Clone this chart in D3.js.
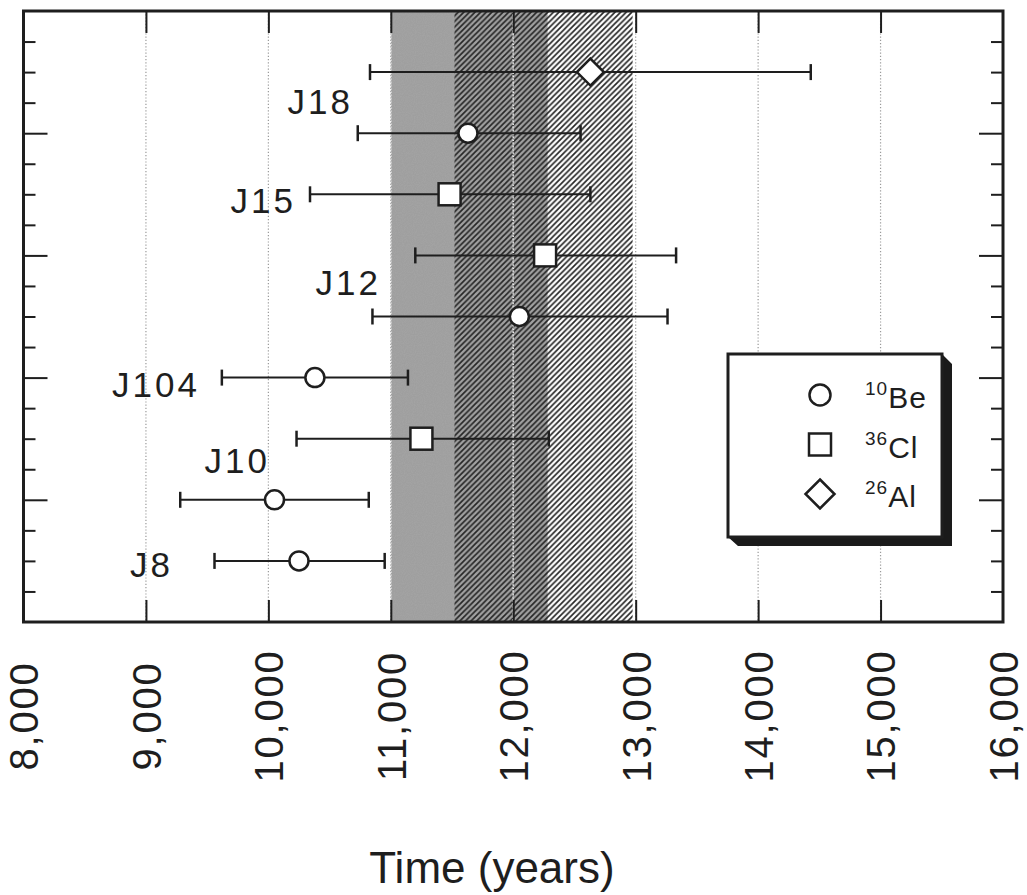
<!DOCTYPE html>
<html>
<head>
<meta charset="utf-8">
<script src="https://cdn.jsdelivr.net/npm/d3@7"></script>
<style>
  body { margin: 0; background: #fff; }
  svg { display: block; font-family: "Liberation Sans", Arial, Helvetica, sans-serif; }
</style>
</head>
<body>
<div id="chart"></div>
<script>
// data
var rowPos   = [18, 16, 14, 12, 10, 8, 6, 4, 2];
var nuclide  = ["Al", "Be", "Cl", "Cl", "Be", "Be", "Cl", "Be", "Be"];
var ageMid   = [12630, 11630, 11480, 12260, 12050, 10380, 11250, 10050, 10250];
var ageLow   = [10830, 10730, 10340, 11200, 10850, 9620, 10230, 9280, 9560];
var ageHigh  = [14430, 12550, 12630, 13330, 13260, 11140, 12290, 10820, 10950];

var sampleNames = ["J18", "J15", "J12", "J104", "J10", "J8"];
var sampleAge   = [10666, 10200, 10895, 9417, 9989, 9196];
var sampleRow   = [17.03, 13.81, 11.1, 7.79, 5.28, 1.9];

var grayBand  = [11000, 12280];
var hatchBand = [11520, 12975];

var xTicks = [8000, 9000, 10000, 11000, 12000, 13000, 14000, 15000, 16000];
var xTickLabels = ["8,000", "9,000", "10,000", "11,000", "12,000", "13,000", "14,000", "15,000", "16,000"];
var yMinor = d3.range(1, 20).filter(function(d) { return d % 4 !== 0; });
var yMajor = [4, 8, 12, 16];

var legendKeys = ["Be", "Cl", "Al"];
var legendMass = ["10", "36", "26"];

var width = 1027, height = 895;
var ink = "#1e1e1e";

var svg = d3.select("#chart").append("svg")
  .attr("width", width)
  .attr("height", height);

var x = d3.scaleLinear().domain([8000, 16000]).range([23.5, 1003]);
var y = d3.scaleLinear().domain([0, 20]).range([622, 11]);

var defs = svg.append("defs");
defs.append("pattern")
    .attr("id", "hatch")
    .attr("patternUnits", "userSpaceOnUse")
    .attr("width", 5.6)
    .attr("height", 5.6)
  .append("path")
    .attr("d", "M-1.4,1.4 l2.8,-2.8 M0,5.6 l5.6,-5.6 M4.2,7 l2.8,-2.8")
    .attr("stroke", "#262626")
    .attr("stroke-width", 1.7);

var grain = defs.append("filter").attr("id", "grain")
  .attr("x", 0).attr("y", 0).attr("width", 1).attr("height", 1);
grain.append("feTurbulence")
  .attr("type", "fractalNoise").attr("baseFrequency", 0.9).attr("numOctaves", 1).attr("result", "n");
grain.append("feColorMatrix")
  .attr("in", "n").attr("type", "matrix")
  .attr("values", "0 0 0 0 0.3  0 0 0 0 0.3  0 0 0 0 0.3  0 0 0 0.6 0").attr("result", "dots");
grain.append("feComposite").attr("in", "dots").attr("in2", "SourceGraphic").attr("operator", "in").attr("result", "d2");
grain.append("feMerge").selectAll("feMergeNode").data(["SourceGraphic", "d2"]).enter()
  .append("feMergeNode").attr("in", function(d) { return d; });

// bands
svg.append("rect")
  .attr("x", x(grayBand[0]))
  .attr("y", y(20))
  .attr("width", x(grayBand[1]) - x(grayBand[0]))
  .attr("height", y(0) - y(20))
  .attr("fill", "#a6a6a6")
  .attr("filter", "url(#grain)");

svg.append("rect")
  .attr("x", x(hatchBand[0]))
  .attr("y", y(20))
  .attr("width", x(hatchBand[1]) - x(hatchBand[0]))
  .attr("height", y(0) - y(20))
  .attr("fill", "url(#hatch)");

// dotted grid lines
var grid = svg.append("g");
grid.selectAll(".gw")
  .data(xTicks.slice(1, -1))
  .enter().append("line")
    .attr("x1", function(d) { return x(d); })
    .attr("x2", function(d) { return x(d); })
    .attr("y1", y(20)).attr("y2", y(0))
    .attr("stroke", "#fff")
    .attr("stroke-width", 1.5)
    .attr("stroke-dasharray", "2,1.2");
grid.selectAll(".gd")
  .data(xTicks.slice(1, -1))
  .enter().append("line")
    .attr("x1", function(d) { return x(d); })
    .attr("x2", function(d) { return x(d); })
    .attr("y1", y(20)).attr("y2", y(0))
    .attr("stroke", "#9a9a9a")
    .attr("stroke-width", 1.2)
    .attr("stroke-dasharray", "1.2,2");

// ticks on all four sides, pointing inward
function clean(g) {
  g.select(".domain").remove();
  g.selectAll("text").remove();
  g.selectAll("line").attr("stroke", ink).attr("stroke-width", 2);
}
svg.append("g")
  .attr("transform", "translate(0," + y(20) + ")")
  .call(d3.axisTop(x).tickValues(xTicks.slice(1, -1)).tickSize(-22))
  .call(clean);
svg.append("g")
  .attr("transform", "translate(0," + y(0) + ")")
  .call(d3.axisBottom(x).tickValues(xTicks.slice(1, -1)).tickSize(-22))
  .call(clean);
svg.append("g")
  .attr("transform", "translate(" + x(8000) + ",0)")
  .call(d3.axisLeft(y).tickValues(yMinor).tickSize(-12))
  .call(clean);
svg.append("g")
  .attr("transform", "translate(" + x(8000) + ",0)")
  .call(d3.axisLeft(y).tickValues(yMajor).tickSize(-24))
  .call(clean);
svg.append("g")
  .attr("transform", "translate(" + x(16000) + ",0)")
  .call(d3.axisRight(y).tickValues(yMinor).tickSize(-12))
  .call(clean);
svg.append("g")
  .attr("transform", "translate(" + x(16000) + ",0)")
  .call(d3.axisRight(y).tickValues(yMajor).tickSize(-24))
  .call(clean);

// rotated tick labels
var xLab = svg.append("g")
  .attr("transform", "translate(0," + y(0) + ")")
  .call(d3.axisBottom(x).tickValues(xTicks).tickSize(0)
    .tickFormat(function(d, i) { return xTickLabels[i]; }));
xLab.select(".domain").remove();
xLab.selectAll("text")
  .attr("transform", "rotate(-90)")
  .attr("x", -94)
  .attr("y", 0)
  .attr("dy", "0.36em")
  .attr("text-anchor", "middle")
  .attr("font-family", "Liberation Sans, Arial, sans-serif")
  .attr("font-size", 40)
  .attr("letter-spacing", 1.8)
  .attr("fill", ink);

// frame
svg.append("rect")
  .attr("x", x(8000)).attr("y", y(20))
  .attr("width", x(16000) - x(8000))
  .attr("height", y(0) - y(20))
  .attr("fill", "none")
  .attr("stroke", ink)
  .attr("stroke-width", 3);

// error bars
var rows = d3.range(rowPos.length);
var bars = svg.append("g");
bars.selectAll(".bar")
  .data(rows).enter().append("line")
    .attr("x1", function(i) { return x(ageLow[i]); })
    .attr("x2", function(i) { return x(ageHigh[i]); })
    .attr("y1", function(i) { return y(rowPos[i]); })
    .attr("y2", function(i) { return y(rowPos[i]); })
    .attr("stroke", ink).attr("stroke-width", 2);
bars.selectAll(".capL")
  .data(rows).enter().append("line")
    .attr("x1", function(i) { return x(ageLow[i]); })
    .attr("x2", function(i) { return x(ageLow[i]); })
    .attr("y1", function(i) { return y(rowPos[i]) - 8; })
    .attr("y2", function(i) { return y(rowPos[i]) + 8; })
    .attr("stroke", ink).attr("stroke-width", 2.5);
bars.selectAll(".capR")
  .data(rows).enter().append("line")
    .attr("x1", function(i) { return x(ageHigh[i]); })
    .attr("x2", function(i) { return x(ageHigh[i]); })
    .attr("y1", function(i) { return y(rowPos[i]) - 8; })
    .attr("y2", function(i) { return y(rowPos[i]) + 8; })
    .attr("stroke", ink).attr("stroke-width", 2.5);

// markers
function marker(g, kind, size) {
  if (kind === "Be") {
    g.append("circle").attr("r", size.r);
  } else if (kind === "Cl") {
    g.append("rect").attr("x", -size.s / 2).attr("y", -size.s / 2)
      .attr("width", size.s).attr("height", size.s);
  } else {
    var h = size.d;
    g.append("path").attr("d", "M0," + (-h) + "L" + h + ",0L0," + h + "L" + (-h) + ",0Z");
  }
}
rows.forEach(function(i) {
  var g = svg.append("g")
    .attr("transform", "translate(" + x(ageMid[i]) + "," + y(rowPos[i]) + ")")
    .attr("fill", "#fff").attr("stroke", ink).attr("stroke-width", 2.5);
  marker(g, nuclide[i], { r: 9.5, s: 22, d: 13.5 });
});

// sample labels
svg.append("g").selectAll("text")
  .data(sampleNames).enter().append("text")
    .attr("x", function(d, i) { return x(sampleAge[i]) + 3; })
    .attr("y", function(d, i) { return y(sampleRow[i]); })
    .attr("dy", "0.36em")
    .attr("text-anchor", "end")
    .attr("font-size", 35)
    .attr("letter-spacing", 3)
    .attr("fill", ink)
    .text(function(d) { return d; });

// legend box with 3-D shadow
var lg = svg.append("g");
lg.append("path")
  .attr("d", "M942,354L952,364L952,546L738,546L728,537L942,537Z")
  .attr("fill", "#1a1a1a");
lg.append("rect")
  .attr("x", 728).attr("y", 354)
  .attr("width", 214).attr("height", 183)
  .attr("fill", "#fff")
  .attr("stroke", ink).attr("stroke-width", 3);
legendKeys.forEach(function(k, i) {
  var cy = 395 + i * 49.5;
  var g = lg.append("g")
    .attr("transform", "translate(820," + cy + ")")
    .attr("fill", "#fff").attr("stroke", ink).attr("stroke-width", 2.5);
  marker(g, k, { r: 10.5, s: 22, d: 14.5 });
  var t = lg.append("text")
    .attr("x", 865)
    .attr("y", cy + 13)
    .attr("fill", ink)
    .attr("letter-spacing", 1);
  t.append("tspan").attr("font-size", 19).attr("dy", -13).text(legendMass[i]);
  t.append("tspan").attr("font-size", 30).attr("dy", 13).text(k);
});

// axis title
svg.append("text")
  .attr("x", 492)
  .attr("y", 883)
  .attr("text-anchor", "middle")
  .attr("font-size", 44)
  .attr("fill", ink)
  .text("Time (years)");
</script>
</body>
</html>
